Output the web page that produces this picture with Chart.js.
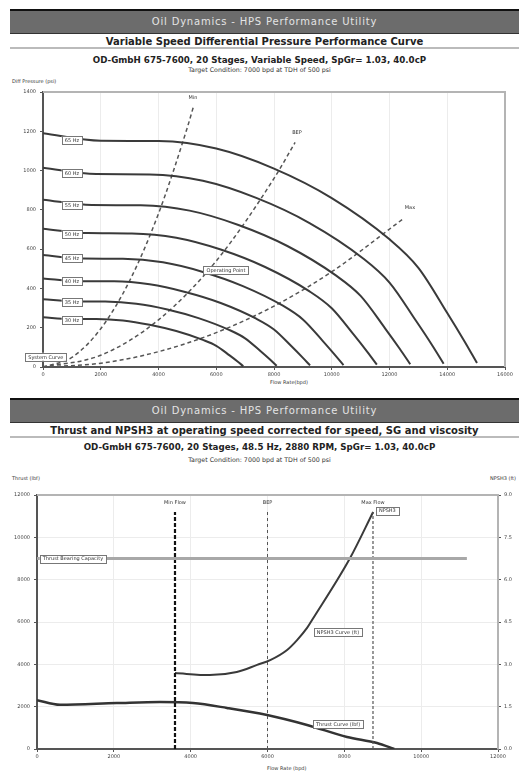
<!DOCTYPE html>
<html>
<head>
<meta charset="utf-8">
<script src="https://cdn.jsdelivr.net/npm/chart.js@4.4.1/dist/chart.umd.min.js"></script>
<style>
  body { margin: 0; background: #fff; width: 519px; height: 771px; position: relative; overflow: hidden; font-family: "DejaVu Sans", sans-serif; color: #222; }
  .band { position: absolute; left: 10px; right: 0; height: 22px; line-height: 22px; background: #6c6c6c; border-top: 2px solid #111; border-bottom: 1px solid #333; color: #e4e4e4; text-align: center; font-size: 10px; letter-spacing: 0.8px; }
  .title { position: absolute; left: 10px; right: 0; height: 11px; line-height: 11px; text-align: center; font-weight: bold; font-size: 10px; border-bottom: 2px solid #bbb; }
  .sub { position: absolute; left: 0; right: 0; text-align: center; font-weight: bold; font-size: 8.7px; line-height: 10px; }
  .target { position: absolute; left: 0; right: 0; text-align: center; font-size: 6.3px; line-height: 7px; color: #333; }
  .tiny { position: absolute; font-size: 5px; color: #333; white-space: nowrap; }
  canvas { position: absolute; left: 0; }
</style>
</head>
<body>
<div class="band" style="top:9px">Oil Dynamics - HPS Performance Utility</div>
<div class="title" style="top:36px">Variable Speed Differential Pressure Performance Curve</div>
<div class="sub" style="top:55px">OD-GmbH 675-7600, 20 Stages, Variable Speed, SpGr= 1.03, 40.0cP</div>
<div class="target" style="top:66px">Target Condition: 7000 bpd at TDH of 500 psi</div>
<div class="tiny" style="left:12px;top:78px">Diff Pressure (psi)</div>
<div class="tiny" style="left:270px;top:379px">Flow Rate(bpd)</div>
<canvas id="dpChart" width="519" height="318" style="top:72px"></canvas>

<div class="band" style="top:398px">Oil Dynamics - HPS Performance Utility</div>
<div class="title" style="top:425px">Thrust and NPSH3 at operating speed corrected for speed, SG and viscosity</div>
<div class="sub" style="top:442px">OD-GmbH 675-7600, 20 Stages, 48.5 Hz, 2880 RPM, SpGr= 1.03, 40.0cP</div>
<div class="target" style="top:456px">Target Condition: 7000 bpd at TDH of 500 psi</div>
<div class="tiny" style="left:12px;top:475px">Thrust (lbf)</div>
<div class="tiny" style="right:3px;top:475px">NPSH3 (ft)</div>
<div class="tiny" style="left:267px;top:765px">Flow Rate (bpd)</div>
<canvas id="thrustChart" width="519" height="300" style="top:470px"></canvas>

<script>
// ---- top chart: speed curves (flow bpd / diff pressure psi) ----
const speedNames = ['65 Hz', '60 Hz', '55 Hz', '50 Hz', '45 Hz', '40 Hz', '35 Hz', '30 Hz'];
const flow65 = [0, 2000, 4000, 6000, 8000, 10000, 12000, 13000, 14000, 14600, 15030];
const dp65   = [1190, 1152, 1150, 1112, 1010, 860, 650, 505, 275, 130, 20];
const flow60 = [0, 1846, 3692, 5538, 7385, 9231, 11077, 12000, 12923, 13477, 13874];
const dp60   = [1014, 982, 980, 948, 861, 733, 554, 430, 234, 111, 17];
const flow55 = [0, 1692, 3385, 5077, 6769, 8462, 10154, 11000, 11846, 12354, 12718];
const dp55   = [852, 825, 823, 796, 723, 616, 465, 362, 197, 93, 14];
const flow50 = [0, 1538, 3077, 4615, 6154, 7692, 9231, 10000, 10769, 11231, 11562];
const dp50   = [704, 682, 680, 658, 598, 509, 385, 299, 163, 77, 12];
const flow45 = [0, 1385, 2769, 4154, 5538, 6923, 8308, 9000, 9692, 10108, 10406];
const dp45   = [570, 552, 551, 533, 484, 412, 312, 242, 132, 62, 10];
const flow40 = [0, 1231, 2462, 3692, 4923, 6154, 7385, 8000, 8615, 8985, 9249];
const dp40   = [451, 436, 436, 421, 382, 326, 246, 191, 104, 49, 8];
const flow35 = [0, 1077, 2154, 3231, 4308, 5385, 6462, 7000, 7538, 7862, 8094];
const dp35   = [345, 334, 333, 322, 293, 249, 188, 146, 80, 38, 6];
const flow30 = [0, 923, 1846, 2769, 3692, 4615, 5538, 6000, 6462, 6738, 6937];
const dp30   = [253, 245, 245, 237, 215, 183, 138, 108, 59, 28, 4];
const speedLabelFlow = 1000;
const speedLabelDp = [1155, 987, 825, 677, 555, 438, 331, 239];

const minLineFlow = [0, 1000, 2000, 3000, 4000, 5000, 5200];
const minLineDp   = [0, 49, 195, 439, 781, 1220, 1320];
const bepLineFlow = [0, 2000, 4000, 6000, 8000, 8730];
const bepLineDp   = [0, 60, 240, 540, 960, 1143];
const maxLineFlow = [0, 2000, 4000, 6000, 8000, 10000, 12470];
const maxLineDp   = [0, 19, 78, 175, 310, 485, 754];

const dpTicksX = { min: 0, max: 16000, step: 2000 };
const dpTicksY = { min: 0, max: 1400, step: 200 };

// ---- bottom chart: thrust (lbf) and NPSH3 (ft) ----
const thrustFlow = [0, 600, 2080, 3200, 4060, 4945, 5990, 7030, 8070, 8850, 9300];
const thrustLbf  = [2310, 2090, 2170, 2220, 2170, 1940, 1605, 1135, 570, 285, 0];
const npshFlow = [3592, 4500, 5200, 5730, 6070, 6510, 6770, 7030, 7160, 8150, 8750];
const npshFt   = [2.69, 2.62, 2.73, 2.98, 3.15, 3.51, 3.86, 4.29, 4.57, 6.77, 8.40];
const minFlowRate = 3592, bepRate = 6000, maxFlowRate = 8746;
const markerTop = 11200;
const bearingCapacity = 9000, bearingEnd = 11190;

const thTicksX = { min: 0, max: 12000, step: 2000 };
const thTicksY = { min: 0, max: 12000, step: 2000 };
const npshTicks = { min: 0, max: 9, step: 1.5 };

const pts = (xs, ys) => xs.map((x, i) => ({ x, y: ys[i] }));

const labelPlugin = (items) => ({
    id: 'boxLabels',
    afterDatasetsDraw(chart) {
        const ctx = chart.ctx;
        ctx.save();
        ctx.font = '5px "DejaVu Sans"';
        ctx.textBaseline = 'middle';
        ctx.textAlign = 'left';
        items.forEach(it => {
            const px = chart.scales.x.getPixelForValue(it.x);
            const py = chart.scales[it.axis || 'y'].getPixelForValue(it.y);
            const w = ctx.measureText(it.text).width;
            const left = it.align === 'left' ? px : it.align === 'right' ? px - w : px - w / 2;
            if (it.box) {
                ctx.fillStyle = '#fff';
                ctx.fillRect(left - 3, py - 4, w + 6, 8);
                ctx.strokeStyle = '#777';
                ctx.lineWidth = 1;
                ctx.strokeRect(Math.round(left - 3) + 0.5, Math.round(py - 4) + 0.5, Math.round(w + 6), 8);
            }
            ctx.fillStyle = '#333';
            ctx.fillText(it.text, left, py + 0.5);
        });
        ctx.restore();
    }
});

const framePlugin = {
    id: 'frame',
    beforeDatasetsDraw(chart) {
        const { ctx, chartArea: a } = chart;
        ctx.save();
        ctx.strokeStyle = '#b4b4b4';
        ctx.lineWidth = 2;
        ctx.beginPath();
        ctx.moveTo(a.left, a.top);
        ctx.lineTo(a.right, a.top);
        ctx.lineTo(a.right, a.bottom);
        ctx.stroke();
        ctx.restore();
    }
};

const tickFont = { size: 5, family: '"DejaVu Sans"' };
const plain = v => String(v);

// ---------- top chart ----------
const speedFlows = [flow65, flow60, flow55, flow50, flow45, flow40, flow35, flow30];
const speedDps = [dp65, dp60, dp55, dp50, dp45, dp40, dp35, dp30];

const dpDatasets = speedFlows.map((f, i) => ({
    label: speedNames[i],
    data: pts(f, speedDps[i]),
    borderColor: '#3a3a3a',
    borderWidth: 2,
    pointRadius: 0,
    cubicInterpolationMode: 'monotone'
}));
[[minLineFlow, minLineDp], [bepLineFlow, bepLineDp], [maxLineFlow, maxLineDp]].forEach(([f, d]) => {
    dpDatasets.push({
        data: pts(f, d),
        borderColor: '#555',
        borderWidth: 1.5,
        borderDash: [4, 3],
        pointRadius: 0,
        cubicInterpolationMode: 'monotone'
    });
});

const dpLabels = speedNames.map((n, i) => ({ text: n, x: speedLabelFlow, y: speedLabelDp[i], box: true }));
dpLabels.push(
    { text: 'Min', x: 5195, y: 1375 },
    { text: 'BEP', x: 8796, y: 1196 },
    { text: 'Max', x: 12709, y: 814 },
    { text: 'Operating Point', x: 6337, y: 494, box: true },
    { text: 'System Curve', x: 700, y: 52, box: true, align: 'right' }
);

new Chart(document.getElementById('dpChart'), {
    type: 'line',
    data: { datasets: dpDatasets },
    options: {
        responsive: false,
        animation: false,
        devicePixelRatio: 1,
        layout: { padding: { top: 20, right: 14, left: 0, bottom: 0 } },
        plugins: { legend: { display: false }, tooltip: { enabled: false } },
        scales: {
            x: {
                type: 'linear', min: dpTicksX.min, max: dpTicksX.max,
                ticks: { stepSize: dpTicksX.step, font: tickFont, color: '#444', padding: 2, maxRotation: 0, callback: plain },
                grid: { color: '#ececec', tickColor: '#555', tickLength: 3 },
                border: { color: '#555', width: 2 },
                afterFit: s => { s.height = 23; }
            },
            y: {
                min: dpTicksY.min, max: dpTicksY.max,
                ticks: { stepSize: dpTicksY.step, font: tickFont, color: '#444', padding: 4, callback: plain },
                grid: { color: 'rgba(0,0,0,0)', tickColor: '#555', tickLength: 3 },
                border: { color: '#555', width: 2 },
                afterFit: s => { s.width = 43; }
            }
        }
    },
    plugins: [framePlugin, labelPlugin(dpLabels)]
});

// ---------- bottom chart ----------
const vline = (x, top) => [{ x, y: 0 }, { x, y: top }];

const thDatasets = [
    { data: [{ x: 0, y: bearingCapacity }, { x: bearingEnd, y: bearingCapacity }], borderColor: '#a8a8a8', borderWidth: 3, pointRadius: 0 },
    { data: vline(minFlowRate, markerTop), borderColor: '#111', borderWidth: 2.2, borderDash: [4, 2], pointRadius: 0 },
    { data: vline(bepRate, markerTop), borderColor: '#555', borderWidth: 1, borderDash: [3, 3], pointRadius: 0 },
    { data: vline(maxFlowRate, markerTop), borderColor: '#555', borderWidth: 1.2, borderDash: [3, 2], pointRadius: 0 },
    { data: pts(thrustFlow, thrustLbf), borderColor: '#333', borderWidth: 2.5, pointRadius: 0, cubicInterpolationMode: 'monotone' },
    { data: pts(npshFlow, npshFt), yAxisID: 'y1', borderColor: '#3a3a3a', borderWidth: 2, pointRadius: 0, cubicInterpolationMode: 'monotone' }
];

const thLabels = [
    { text: 'Min Flow', x: minFlowRate, y: 11650 },
    { text: 'BEP', x: bepRate, y: 11650 },
    { text: 'Max Flow', x: maxFlowRate, y: 11650 },
    { text: 'Thrust Bearing Capacity', x: 150, y: bearingCapacity, box: true, align: 'left' },
    { text: 'NPSH3', x: 8900, y: 8.45, axis: 'y1', box: true, align: 'left' },
    { text: 'NPSH3 Curve (ft)', x: 7835, y: 5527, box: true },
    { text: 'Thrust Curve (lbf)', x: 7835, y: 1181, box: true }
];

new Chart(document.getElementById('thrustChart'), {
    type: 'line',
    data: { datasets: thDatasets },
    options: {
        responsive: false,
        animation: false,
        devicePixelRatio: 1,
        layout: { padding: { top: 25, right: 0, left: 0, bottom: 0 } },
        plugins: { legend: { display: false }, tooltip: { enabled: false } },
        scales: {
            x: {
                type: 'linear', min: thTicksX.min, max: thTicksX.max,
                ticks: { stepSize: thTicksX.step, font: tickFont, color: '#444', padding: 2, maxRotation: 0, callback: plain },
                grid: { color: '#ececec', tickColor: '#555', tickLength: 3 },
                border: { color: '#555', width: 2 },
                afterFit: s => { s.height = 21; }
            },
            y: {
                min: thTicksY.min, max: thTicksY.max,
                ticks: { stepSize: thTicksY.step, font: tickFont, color: '#444', padding: 4, callback: plain },
                grid: { color: '#ececec', tickColor: '#555', tickLength: 3 },
                border: { color: '#555', width: 2 },
                afterFit: s => { s.width = 37; }
            },
            y1: {
                position: 'right',
                min: npshTicks.min, max: npshTicks.max,
                ticks: { stepSize: npshTicks.step, font: tickFont, color: '#444', padding: 3, callback: v => v.toFixed(1) },
                grid: { drawOnChartArea: false, tickColor: '#555', tickLength: 3 },
                border: { color: '#8a8a8a', width: 2 },
                afterFit: s => { s.width = 21; }
            }
        }
    },
    plugins: [framePlugin, labelPlugin(thLabels)]
});
</script>
</body>
</html>
